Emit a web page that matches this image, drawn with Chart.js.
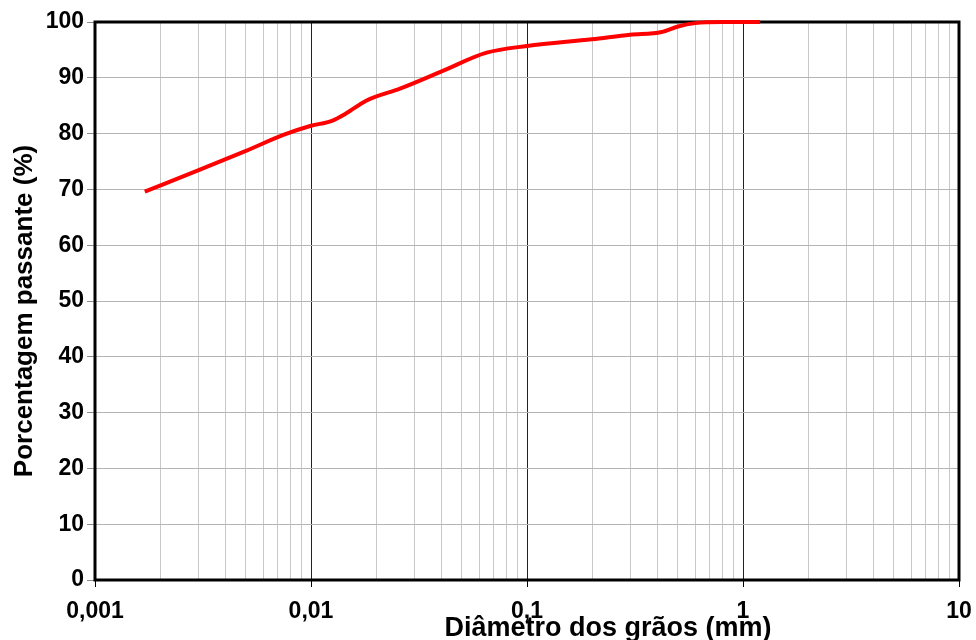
<!DOCTYPE html>
<html lang="pt">
<head>
    <meta charset="UTF-8">
    <title>Curva granulométrica</title>
    <script src="https://cdn.jsdelivr.net/npm/chart.js@4/dist/chart.umd.min.js"></script>
    <style>
        body { margin: 0; background: #fff; }
    </style>
</head>
<body>
    <canvas id="curva" width="976" height="640"></canvas>
    <script>
        // diametro dos graos (mm) e porcentagem passante (%)
        const diametro = [0.0017, 0.003, 0.005, 0.0075, 0.01, 0.0125, 0.0145, 0.018, 0.026, 0.04, 0.065, 0.1, 0.2, 0.3, 0.42, 0.5, 0.6, 0.8, 1.2];
        const passante = [69.6, 73.4, 76.9, 79.8, 81.4, 82.3, 83.6, 85.9, 88.1, 91.1, 94.5, 95.7, 96.9, 97.7, 98.2, 99.2, 99.8, 100, 100];

        const decadas = [0.001, 0.01, 0.1, 1, 10];
        const rotulosX = ['0,001', '0,01', '0,1', '1', '10'];

        const fonte = '"Liberation Sans", Arial, sans-serif';

        const pontos = diametro.map((d, i) => ({ x: d, y: passante[i] }));

        // borda preta em volta da area do grafico + titulos dos eixos
        const moldura = {
            id: 'moldura',
            beforeDatasetsDraw(chart) {
                const a = chart.chartArea;
                const c = chart.ctx;
                c.save();
                c.strokeStyle = '#000';
                c.lineWidth = 3;
                c.strokeRect(a.left, a.top, a.right - a.left, a.bottom - a.top);
                c.restore();
            },
            afterDraw(chart) {
                const c = chart.ctx;
                c.save();
                c.fillStyle = '#000';
                c.font = 'bold 27px ' + fonte;
                c.textAlign = 'center';
                c.textBaseline = 'alphabetic';
                c.fillText('Diâmetro dos grãos (mm)', 608, 636);
                c.translate(25, 311);
                c.rotate(-Math.PI / 2);
                c.font = 'bold 26px ' + fonte;
                c.textBaseline = 'middle';
                c.fillText('Porcentagem passante (%)', 0, 0);
                c.restore();
            }
        };

        const ctx = document.getElementById('curva').getContext('2d');
        const grafico = new Chart(ctx, {
            type: 'scatter',
            data: {
                datasets: [{
                    data: pontos,
                    showLine: true,
                    borderColor: '#ff0000',
                    borderWidth: 4,
                    pointRadius: 0,
                    cubicInterpolationMode: 'monotone',
                    clip: false
                }]
            },
            options: {
                responsive: false,
                animation: false,
                layout: { padding: { top: 22, right: 17, left: 0, bottom: 0 } },
                plugins: {
                    legend: { display: false },
                    tooltip: { enabled: false }
                },
                scales: {
                    x: {
                        type: 'logarithmic',
                        min: 0.001,
                        max: 10,
                        afterBuildTicks(scale) {
                            const t = [];
                            decadas.forEach((d, i) => {
                                t.push({ value: d, major: true });
                                if (i < decadas.length - 1) {
                                    for (let m = 2; m <= 9; m++) {
                                        t.push({ value: Number((d * m).toPrecision(3)), major: false });
                                    }
                                }
                            });
                            scale.ticks = t;
                        },
                        afterFit(scale) {
                            scale.height = 60;
                            scale.paddingLeft = 0;
                            scale.paddingRight = 0;
                        },
                        border: { display: false },
                        grid: {
                            color: (c) => (c.tick && c.tick.major) ? '#222' : '#c8c8c8',
                            tickColor: (c) => (c.tick && c.tick.major) ? '#000' : 'rgba(0,0,0,0)',
                            tickLength: 7,
                            lineWidth: 1
                        },
                        ticks: {
                            autoSkip: false,
                            maxRotation: 0,
                            padding: 11,
                            color: '#000',
                            font: { family: fonte, size: 23, weight: 'bold' },
                            callback(value) {
                                const i = decadas.indexOf(value);
                                return i >= 0 ? rotulosX[i] : '';
                            }
                        }
                    },
                    y: {
                        min: 0,
                        max: 100,
                        afterFit(scale) {
                            scale.width = 95;
                            scale.paddingTop = 0;
                            scale.paddingBottom = 0;
                        },
                        border: { display: false },
                        grid: {
                            color: '#b4b4b4',
                            tickColor: '#8c8c8c',
                            tickLength: 8,
                            lineWidth: 1
                        },
                        ticks: {
                            stepSize: 10,
                            padding: 3,
                            color: '#000',
                            font: { family: fonte, size: 23, weight: 'bold' }
                        }
                    }
                }
            },
            plugins: [moldura]
        });
    </script>
</body>
</html>
